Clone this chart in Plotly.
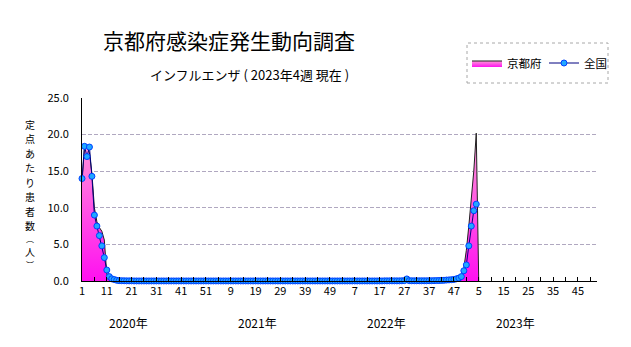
import plotly.graph_objects as go

# ---- data (weekly, 2020 wk1 .. 2023 wk5; 52 weeks per year) ----
national_2020 = [14.0, 18.4, 17.0, 18.3, 14.3, 9.0, 7.5, 6.2, 4.8, 3.2, 1.5, 0.6, 0.3, 0.2, 0.1,
                 0.05, 0.04, 0.03, 0.02, 0.02, 0.02, 0.01, 0.01, 0.01, 0.01, 0.01, 0.01, 0.01, 0.01, 0.01,
                 0.01, 0.01, 0.01, 0.01, 0.01, 0.01, 0.01, 0.01, 0.01, 0.01, 0.01, 0.01, 0.01, 0.01, 0.01,
                 0.01, 0.01, 0.01, 0.01, 0.01, 0.01, 0.01]
national_2021 = [0.01, 0.01, 0.01, 0.01, 0.01, 0.01, 0.01, 0.01, 0.01, 0.01, 0.01, 0.01, 0.01,
                 0.01, 0.01, 0.01, 0.01, 0.01, 0.01, 0.01, 0.01, 0.01, 0.01, 0.01, 0.01, 0.01,
                 0.01, 0.01, 0.01, 0.01, 0.01, 0.01, 0.01, 0.01, 0.01, 0.01, 0.01, 0.01, 0.01,
                 0.01, 0.01, 0.01, 0.01, 0.01, 0.01, 0.01, 0.01, 0.01, 0.01, 0.01, 0.01, 0.01]
national_2022 = [0.01, 0.01, 0.01, 0.01, 0.01, 0.01, 0.01, 0.01, 0.01, 0.01, 0.01, 0.01, 0.01,
                 0.01, 0.01, 0.01, 0.01, 0.01, 0.02, 0.02, 0.02, 0.02, 0.02, 0.02, 0.02, 0.03,
                 0.05, 0.28, 0.05, 0.03, 0.03, 0.03, 0.03, 0.03, 0.03, 0.03, 0.04, 0.04, 0.05,
                 0.06, 0.07, 0.08, 0.10, 0.13, 0.15, 0.18, 0.21, 0.30, 0.40, 0.60, 1.40, 2.20]
national_2023 = [4.8, 7.5, 9.6, 10.5]

kyoto_2020 = [13.5, 18.2, 18.4, 17.5, 14.7, 10.0, 8.1, 7.3, 6.8, 5.6, 0.9, 0.3, 0.1,
              0, 0, 0, 0, 0, 0, 0, 0, 0, 0, 0, 0, 0,
              0, 0, 0, 0, 0, 0, 0, 0, 0, 0, 0, 0, 0,
              0, 0, 0, 0, 0, 0, 0, 0, 0, 0, 0, 0, 0]
kyoto_2021 = [0, 0, 0, 0, 0, 0, 0, 0, 0, 0, 0, 0, 0,
              0, 0, 0, 0, 0, 0, 0, 0, 0, 0, 0, 0, 0,
              0, 0, 0, 0, 0, 0, 0, 0, 0, 0, 0, 0, 0,
              0, 0, 0, 0, 0, 0, 0, 0, 0, 0, 0, 0, 0]
kyoto_2022 = [0, 0, 0, 0, 0, 0, 0, 0, 0, 0, 0, 0, 0,
              0, 0, 0, 0, 0, 0, 0, 0, 0, 0, 0, 0, 0,
              0, 0, 0, 0, 0, 0, 0, 0, 0, 0, 0, 0, 0,
              0, 0, 0, 0, 0, 0, 0, 0, 0.1, 0.3, 0.7, 1.8, 4.2]
kyoto_2023 = [7.5, 11.0, 15.0, 20.2, 0]

years = ["2020年", "2021年", "2022年", "2023年"]
weeks_per_year = 52
tick_labels = ["1", "11", "21", "31", "41", "51", "9", "19", "29", "39", "49",
               "7", "17", "27", "37", "47", "5", "15", "25", "35", "45"]
y_tick_labels = ["0.0", "5.0", "10.0", "15.0", "20.0", "25.0"]
y_tick_vals = [0, 5, 10, 15, 20, 25]
y_title_chars = ["定", "点", "あ", "た", "り", "患", "者", "数", "︵", "人", "︶"]

national = national_2020 + national_2021 + national_2022 + national_2023
kyoto = kyoto_2020 + kyoto_2021 + kyoto_2022 + kyoto_2023
x_nat = list(range(1, len(national) + 1))
x_kyo = list(range(1, len(kyoto) + 1))

# ticks every 5 positions, labels every 10
tickvals = list(range(1, 208, 5))
ticktext = []
li = 0
for i, v in enumerate(tickvals):
    if i % 2 == 0:
        ticktext.append(tick_labels[li] if li < len(tick_labels) else "")
        li += 1
    else:
        ticktext.append("")

FONT = "Noto Sans CJK JP"
L, R, T, B = 82, 34, 98, 66
W, H = 631, 347
PW, PH = W - L - R, H - T - B


def px(xp):
    return (xp - L) / PW


def py(yp):
    return (H - B - yp) / PH


fig = go.Figure()
fig.add_trace(go.Scatter(
    x=x_kyo, y=kyoto, name="京都府", mode="lines",
    line=dict(color="#202020", width=1),
    fill="tozeroy",
    fillgradient=dict(type="vertical", colorscale=[[0, "#ff10f0"], [1, "#ff9ad8"]], start=0, stop=20),
))
fig.add_trace(go.Scatter(
    x=x_nat, y=national, name="全国", mode="lines+markers",
    line=dict(color="#000080", width=1),
    marker=dict(size=6, color="#20a8ff", line=dict(color="#0040ff", width=1)),
    cliponaxis=False,
))

annotations = [
    dict(text="京都府感染症発生動向調査", x=px(229), y=py(40), xref="paper", yref="paper",
         xanchor="center", yanchor="middle",
         showarrow=False, font=dict(family=FONT, size=21, color="black")),
    dict(text="インフルエンザ ( 2023年4週 現在 )", x=px(249), y=py(74), xref="paper", yref="paper",
         xanchor="center", yanchor="middle",
         showarrow=False, font=dict(family=FONT, size=13, color="black")),
]
# vertical (upright) y-axis title, one glyph per annotation
y_char_size = [10, 10, 10, 10, 10, 10, 10, 10, 8, 10, 8]
y_char_pos = [124, 138.5, 153, 167.5, 182, 196.5, 211, 225.5, 238.5, 251.6, 264.7]
for ch, yp, fs in zip(y_title_chars, y_char_pos, y_char_size):
    annotations.append(dict(text=ch, x=px(30), y=py(yp), xref="paper", yref="paper",
                            xanchor="center", yanchor="middle", showarrow=False,
                            font=dict(family=FONT, size=fs, color="black")))
for i, yr in enumerate(years):
    annotations.append(dict(text=yr, x=1 + weeks_per_year * i + 18.8, y=py(322), xref="x", yref="paper",
                            showarrow=False, yanchor="middle",
                            font=dict(family=FONT, size=12, color="black")))

fig.update_layout(
    width=W, height=H,
    margin=dict(l=L, r=R, t=T, b=B, autoexpand=False),
    paper_bgcolor="white", plot_bgcolor="white",
    font=dict(family=FONT, size=11, color="black"),
    showlegend=True,
    legend=dict(orientation="h", x=px(467), y=py(63), xanchor="left", yanchor="middle",
                borderwidth=0, bgcolor="rgba(0,0,0,0)",
                font=dict(family=FONT, size=11.5), itemwidth=30,
                entrywidth=32, tracegroupgap=0),
    shapes=[dict(type="rect", xref="paper", yref="paper", x0=px(467), x1=px(608),
                 y0=py(83), y1=py(43), line=dict(color="#a8a8a8", width=1, dash="dot"),
                 fillcolor="rgba(0,0,0,0)")],
    annotations=annotations,
    xaxis=dict(range=[1, 208.7], tickmode="array", tickvals=tickvals, ticktext=ticktext,
               ticks="inside", ticklen=4, tickcolor="black", showline=True, linecolor="black",
               linewidth=1, showgrid=False, zeroline=False, tickfont=dict(size=11)),
    yaxis=dict(range=[0, 25], tickmode="array", tickvals=y_tick_vals, ticktext=y_tick_labels,
               ticks="", showline=True, linecolor="black", linewidth=1,
               showgrid=True, gridcolor="#b0a8c0", griddash="4px,2px", gridwidth=1,
               zeroline=False, tickfont=dict(size=11), ticklabelstandoff=10),
)

fig.write_html("out.html")
